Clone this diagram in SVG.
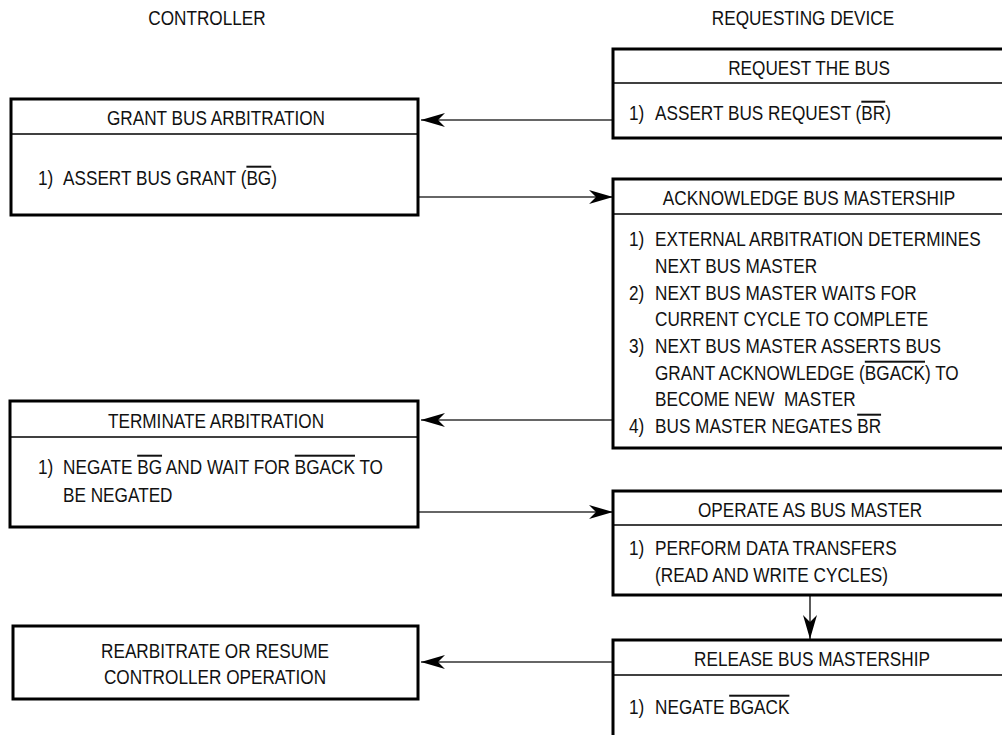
<svg xmlns="http://www.w3.org/2000/svg" width="1002" height="735" viewBox="0 0 1002 735">
<style>
text{font-family:"Liberation Sans",Arial,sans-serif;font-size:20px;fill:#111}
.c{text-anchor:middle}
.box{fill:#fff;stroke:#000;stroke-width:3}
.div{stroke:#000;stroke-width:1.5}
.conn{stroke:#333;stroke-width:1.6;fill:none;marker-end:url(#ah)}
.ol{text-decoration:overline}
</style>
<defs>
<marker id="ah" viewBox="0 0 24 14" refX="24" refY="7" markerWidth="24" markerHeight="14" markerUnits="userSpaceOnUse" orient="auto">
<path d="M24,7 L0,0 L7,7 L0,14 Z" fill="#000"/>
</marker>
</defs>
<rect width="1002" height="735" fill="#fff"/>

<g id="headers">
<text class="c" transform="translate(207 25) scale(0.86 1)">CONTROLLER</text>
<text class="c" transform="translate(803 25) scale(0.86 1)">REQUESTING DEVICE</text>
</g>

<g id="connectors">
<line class="conn" x1="613" y1="120" x2="421" y2="120"/>
<line class="conn" x1="418" y1="197" x2="613" y2="197"/>
<line class="conn" x1="613" y1="420" x2="421" y2="420"/>
<line class="conn" x1="418" y1="512" x2="613" y2="512"/>
<line class="conn" x1="810" y1="595" x2="810" y2="639"/>
<line class="conn" x1="613" y1="662" x2="421" y2="662"/>
</g>

<g id="request-bus">
<rect class="box" x="613" y="49" width="400" height="89"/>
<line class="div" x1="613" y1="83" x2="1010" y2="83"/>
<text class="c" transform="translate(809 75) scale(0.86 1)">REQUEST THE BUS</text>
<text transform="translate(629 120) scale(0.86 1)">1)</text>
<text transform="translate(655 120) scale(0.86 1)">ASSERT BUS REQUEST (<tspan class="ol">BR</tspan>)</text>
</g>

<g id="grant-bus-arbitration">
<rect class="box" x="11" y="99" width="407" height="116"/>
<line class="div" x1="11" y1="134" x2="418" y2="134"/>
<text class="c" transform="translate(216 125) scale(0.86 1)">GRANT BUS ARBITRATION</text>
<text transform="translate(38 185) scale(0.86 1)">1)</text>
<text transform="translate(63 185) scale(0.86 1)">ASSERT BUS GRANT (<tspan class="ol">BG</tspan>)</text>
</g>

<g id="acknowledge-bus-mastership">
<rect class="box" x="613" y="179" width="400" height="269"/>
<line class="div" x1="613" y1="214" x2="1010" y2="214"/>
<text class="c" transform="translate(809 205) scale(0.86 1)">ACKNOWLEDGE BUS MASTERSHIP</text>
<text transform="translate(629 246) scale(0.86 1)">1)</text>
<text transform="translate(655 246) scale(0.86 1)">EXTERNAL ARBITRATION DETERMINES</text>
<text transform="translate(655 273) scale(0.86 1)">NEXT BUS MASTER</text>
<text transform="translate(629 300) scale(0.86 1)">2)</text>
<text transform="translate(655 300) scale(0.86 1)">NEXT BUS MASTER WAITS FOR</text>
<text transform="translate(655 326) scale(0.86 1)">CURRENT CYCLE TO COMPLETE</text>
<text transform="translate(629 353) scale(0.86 1)">3)</text>
<text transform="translate(655 353) scale(0.86 1)">NEXT BUS MASTER ASSERTS BUS</text>
<text transform="translate(655 380) scale(0.86 1)">GRANT ACKNOWLEDGE (<tspan class="ol">BGACK</tspan>) TO</text>
<text transform="translate(655 406) scale(0.86 1)">BECOME NEW&#160; MASTER</text>
<text transform="translate(629 433) scale(0.86 1)">4)</text>
<text transform="translate(655 433) scale(0.86 1)">BUS MASTER NEGATES <tspan class="ol">BR</tspan></text>
</g>

<g id="terminate-arbitration">
<rect class="box" x="10" y="401" width="408" height="126"/>
<line class="div" x1="10" y1="437" x2="418" y2="437"/>
<text class="c" transform="translate(216 428) scale(0.86 1)">TERMINATE ARBITRATION</text>
<text transform="translate(38 474) scale(0.86 1)">1)</text>
<text transform="translate(63 474) scale(0.86 1)">NEGATE <tspan class="ol">BG</tspan> AND WAIT FOR <tspan class="ol">BGACK</tspan> TO</text>
<text transform="translate(63 502) scale(0.86 1)">BE NEGATED</text>
</g>

<g id="operate-as-bus-master">
<rect class="box" x="613" y="491" width="400" height="104"/>
<line class="div" x1="613" y1="525" x2="1010" y2="525"/>
<text class="c" transform="translate(810 517) scale(0.86 1)">OPERATE AS BUS MASTER</text>
<text transform="translate(629 555) scale(0.86 1)">1)</text>
<text transform="translate(655 555) scale(0.86 1)">PERFORM DATA TRANSFERS</text>
<text transform="translate(655 582) scale(0.86 1)">(READ AND WRITE CYCLES)</text>
</g>

<g id="release-bus-mastership">
<rect class="box" x="613" y="640" width="400" height="120"/>
<line class="div" x1="613" y1="675" x2="1010" y2="675"/>
<text class="c" transform="translate(812 666) scale(0.86 1)">RELEASE BUS MASTERSHIP</text>
<text transform="translate(629 714) scale(0.86 1)">1)</text>
<text transform="translate(655 714) scale(0.86 1)">NEGATE <tspan class="ol">BGACK</tspan></text>
</g>

<g id="rearbitrate">
<rect class="box" x="13" y="626" width="405" height="73"/>
<text class="c" transform="translate(215 658) scale(0.86 1)">REARBITRATE OR RESUME</text>
<text class="c" transform="translate(215 684) scale(0.86 1)">CONTROLLER OPERATION</text>
</g>
</svg>
